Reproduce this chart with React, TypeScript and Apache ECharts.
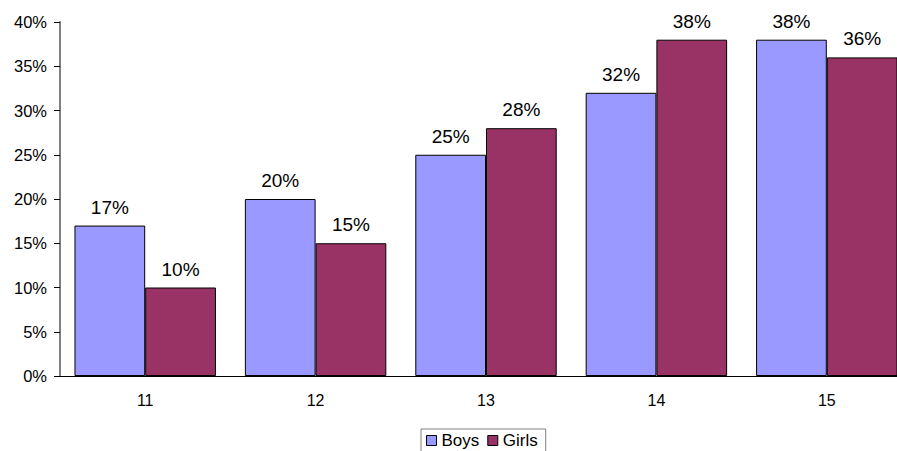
import React, { useEffect, useRef } from "react";
import * as echarts from "echarts";

const categories = ["11", "12", "13", "14", "15"];
const boys = [17, 20, 25, 32, 38];
const girls = [10, 15, 28, 38, 36];
const yTicks = [0, 5, 10, 15, 20, 25, 30, 35, 40];

export default function App() {
  const ref = useRef<HTMLDivElement>(null);
  useEffect(() => {
    if (!ref.current) return;
    const chart = echarts.init(ref.current, null, { renderer: "svg" });
    const font = "Liberation Sans, Arial, sans-serif";
    const label = {
      show: true,
      position: "top",
      distance: 9,
      fontSize: 19,
      color: "#000",
      formatter: "{c}%",
      fontFamily: font,
    };
    chart.setOption({
      animation: false,
      textStyle: { fontFamily: font },
      grid: { left: 60, right: 18, top: 22, bottom: 75, containLabel: false },
      legend: {
        data: ["Boys", "Girls"],
        left: 421,
        top: 429,
        itemWidth: 10,
        itemHeight: 10,
        itemGap: 8,
        padding: [3, 8, 3, 5],
        borderColor: "#808080",
        borderWidth: 1,
        backgroundColor: "#fff",
        textStyle: { fontSize: 17, color: "#000", fontFamily: font, padding: [0, 0, 0, 0] },
        icon: "rect",
        itemStyle: { borderColor: "#000", borderWidth: 1 },
      },
      xAxis: {
        type: "category",
        data: categories,
        axisLine: { lineStyle: { color: "#000", width: 1 } },
        axisTick: { length: 6, lineStyle: { color: "#000" } },
        axisLabel: { fontSize: 16, color: "#000", margin: 16, fontFamily: font },
        splitLine: { show: false },
      },
      yAxis: {
        type: "value",
        min: yTicks[0],
        max: yTicks[yTicks.length - 1],
        interval: 5,
        axisLine: { show: true, lineStyle: { color: "#808080", width: 2 } },
        axisTick: { show: true, length: 6, lineStyle: { color: "#000" } },
        axisLabel: { fontSize: 16.5, color: "#000", margin: 13, formatter: "{value}%", fontFamily: font },
        splitLine: { show: false },
      },
      series: [
        {
          name: "Boys",
          type: "bar",
          data: boys,
          barGap: "0%",
          barCategoryGap: "17%",
          itemStyle: { color: "#9999FF", borderColor: "#000", borderWidth: 1 },
          label,
        },
        {
          name: "Girls",
          type: "bar",
          data: girls,
          barGap: "0%",
          barCategoryGap: "17%",
          itemStyle: { color: "#993366", borderColor: "#000", borderWidth: 1 },
          label,
        },
      ],
    });
    return () => chart.dispose();
  }, []);
  return (
    <div
      style={{
        position: "fixed",
        left: 0,
        top: 0,
        width: 897,
        height: 451,
        overflow: "hidden",
        background: "#fff",
      }}
    >
      <div ref={ref} style={{ width: 930, height: 451 }} />
    </div>
  );
}
